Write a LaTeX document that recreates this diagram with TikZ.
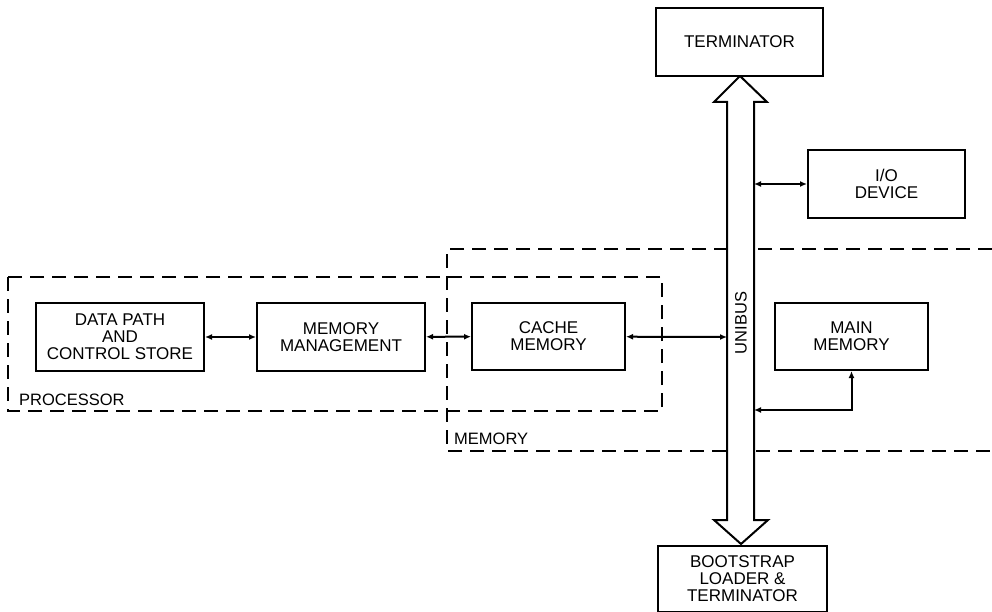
\documentclass[tikz,border=0pt]{standalone}
\usepackage{fontspec}
\setmainfont{Liberation Sans}
\usetikzlibrary{arrows.meta}
\begin{document}
\begin{tikzpicture}[x=1pt,y=-1pt,
  blk/.style={draw,line width=2pt,fill=white,inner sep=0pt,align=center,
    font=\fontsize{17}{17}\selectfont},
  grp/.style={draw,line width=1.8pt,dash pattern=on 14pt off 8pt},
  conn/.style={line width=2pt,{Latex[length=7pt,width=6pt]}-{Latex[length=7pt,width=6pt]}},
  lbl/.style={inner sep=0pt,font=\fontsize{16.5}{17}\selectfont}]
\useasboundingbox (0,0) rectangle (992,612);
% group outlines
\draw[grp] (8,277) rectangle (662,411);
\draw[grp] (992,249) -- (447,249) -- (447,451) -- (992,451);
\node[lbl,anchor=south west] (proclbl) at (19,406) {PROCESSOR};
\node[lbl,anchor=south west] (memlbl) at (454,445) {MEMORY};
% bus
\draw[line width=2pt,fill=white,line join=miter]
  (740,76) -- (767,102) -- (754,102) -- (754,520) -- (768,520) -- (741,544)
  -- (714,520) -- (727,520) -- (727,102) -- (714,102) -- cycle;
\coordinate (busL) at (727,337);
\coordinate (busRio) at (754,184);
\coordinate (busRmm) at (754,410);
\node[lbl,rotate=90] (unibus) at (741,323) {UNIBUS};
% blocks
\node[blk,minimum width=167pt,minimum height=68pt] (term) at (739.5,42) {TERMINATOR};
\node[blk,minimum width=157pt,minimum height=68pt] (io) at (886.5,184) {I/O\\DEVICE};
\node[blk,minimum width=168pt,minimum height=68pt] (dp) at (120,337) {DATA PATH\\AND\\CONTROL STORE};
\node[blk,minimum width=168pt,minimum height=68pt] (mm) at (341,337) {MEMORY\\MANAGEMENT};
\node[blk,minimum width=153pt,minimum height=67pt] (cache) at (548.5,336.5) {CACHE\\MEMORY};
\node[blk,minimum width=153pt,minimum height=67pt] (main) at (851.5,336.5) {MAIN\\MEMORY};
\node[blk,minimum width=169pt,minimum height=66pt] (boot) at (742.5,579) {BOOTSTRAP\\LOADER \&\\TERMINATOR};
% connectors
\draw[conn] (dp) -- (mm);
\draw[conn] (mm) -- (cache);
\draw[conn] (cache) -- (busL);
\draw[conn] (busRio) -- (io.west);
\draw[conn] (main.south) |- (busRmm);
\end{tikzpicture}
\end{document}
